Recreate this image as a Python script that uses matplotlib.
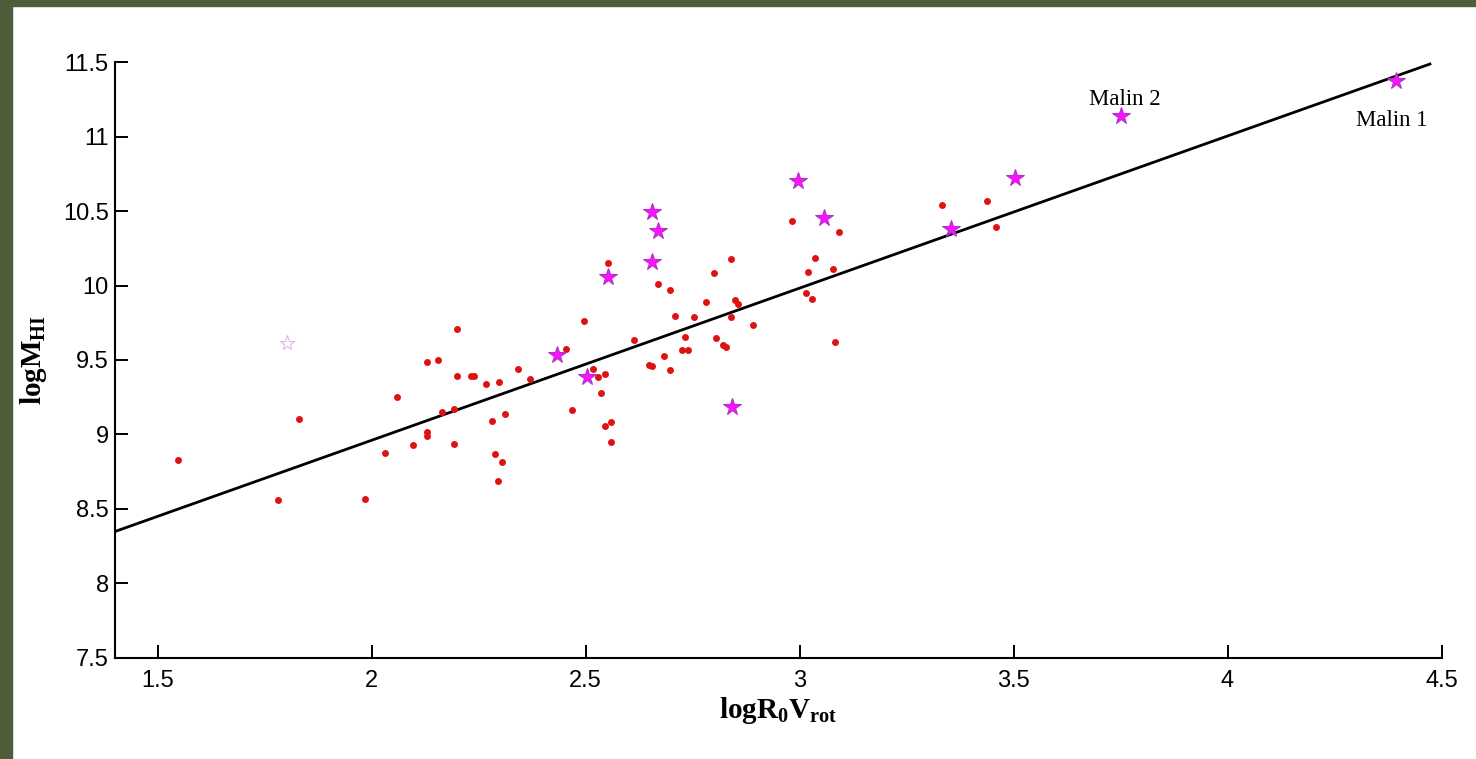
import matplotlib
matplotlib.use("Agg")
import matplotlib.pyplot as plt
from matplotlib.patches import Rectangle
import numpy as np

plt.rcParams['mathtext.fontset'] = 'custom'
plt.rcParams['mathtext.rm'] = 'Liberation Serif'
plt.rcParams['mathtext.bf'] = 'Liberation Serif:bold'
plt.rcParams['mathtext.default'] = 'bf'

# red points (logR0Vrot, logMHI)
dot_x = [1.548, 1.782, 1.829, 1.985, 2.032, 2.060, 2.097, 2.128, 2.128, 2.130,
         2.156, 2.165, 2.193, 2.193, 2.200, 2.200, 2.233, 2.240, 2.268, 2.298,
         2.341, 2.371, 2.280, 2.312, 2.287, 2.305, 2.296, 2.453, 2.469, 2.495,
         2.518, 2.528, 2.546, 2.535, 2.546, 2.558, 2.560, 2.553, 2.614, 2.647,
         2.654, 2.682, 2.698, 2.670, 2.698, 2.708, 2.752, 2.733, 2.724, 2.738,
         2.780, 2.801, 2.839, 2.804, 2.820, 2.827, 2.839, 2.850, 2.857, 2.892,
         2.981, 3.091, 3.035, 3.019, 3.079, 3.016, 3.028, 3.082, 3.332, 3.439,
         3.458]
dot_y = [8.828, 8.559, 9.104, 8.566, 8.875, 9.251, 8.929, 9.016, 8.989, 9.487,
         9.500, 9.151, 9.171, 8.936, 9.708, 9.392, 9.392, 9.392, 9.339, 9.352,
         9.440, 9.372, 9.090, 9.137, 8.868, 8.815, 8.687, 9.574, 9.164, 9.762,
         9.440, 9.386, 9.406, 9.278, 9.057, 9.083, 8.949, 10.152, 9.634, 9.466,
         9.460, 9.527, 9.433, 10.011, 9.970, 9.796, 9.789, 9.655, 9.567, 9.567,
         9.890, 10.084, 10.179, 9.648, 9.601, 9.587, 9.789, 9.903, 9.876, 9.735,
         10.434, 10.360, 10.185, 10.091, 10.111, 9.950, 9.910, 9.621, 10.541, 10.568,
         10.394]

# magenta stars (LSB galaxies)
star_x = [2.434, 2.504, 2.551, 2.654, 2.668, 2.656, 2.841, 2.995, 3.058, 3.353,
          3.503, 3.750, 4.393]
star_y = [9.534, 9.386, 10.058, 10.494, 10.367, 10.158, 9.184, 10.703, 10.454, 10.380,
          10.723, 11.139, 11.374]

# faint marker left of the cloud
faint_x = [1.803]
faint_y = [9.614]

# fitted line
fit_slope = 1.022
fit_icpt = 6.917
fit_range = [1.40, 4.473]

labels = ["Malin 2", "Malin 1"]
label_x = [3.76, 4.384]
label_y = [11.253, 11.112]

fig = plt.figure(figsize=(14.76, 7.59), dpi=100)
fig.patch.set_facecolor('white')
# dark frame strips at left and top
fig.patches.append(Rectangle((0, 0), 12 / 1476, 1, transform=fig.transFigure,
                             color='#4f5d3b', zorder=0))
fig.patches.append(Rectangle((0, 1 - 6 / 759), 1, 6 / 759, transform=fig.transFigure,
                             color='#4f5d3b', zorder=0))

ax = fig.add_axes([115 / 1476, 1 - 657.7 / 759, 1326.5 / 1476, 595.4 / 759])

lx = np.array(fit_range)
ax.plot(lx, fit_slope * lx + fit_icpt, color='black', lw=2.0, zorder=2)
ax.plot(dot_x, dot_y, 'o', color='#dd1212', markersize=5, markeredgewidth=0, zorder=3)
ax.plot(star_x, star_y, '*', markerfacecolor='#ff10ff', markeredgecolor='#b030c8',
        markeredgewidth=0.8, markersize=13, zorder=4)
ax.plot(faint_x, faint_y, '*', markerfacecolor='none', markeredgecolor='#dcb0dc',
        markeredgewidth=0.7, markersize=11, zorder=3)

for t, x, y in zip(labels, label_x, label_y):
    ax.text(x, y, t, ha='center', va='center', fontsize=16.5,
            family='Liberation Serif', color='black')

ax.set_xlim(1.4, 4.5)
ax.set_ylim(7.5, 11.5)
ax.set_xticks([1.5, 2, 2.5, 3, 3.5, 4, 4.5])
ax.set_xticklabels(['1.5', '2', '2.5', '3', '3.5', '4', '4.5'])
ax.set_yticks([7.5, 8, 8.5, 9, 9.5, 10, 10.5, 11, 11.5])
ax.set_yticklabels(['7.5', '8', '8.5', '9', '9.5', '10', '10.5', '11', '11.5'])

ax.spines['top'].set_visible(False)
ax.spines['right'].set_visible(False)
for s in ['left', 'bottom']:
    ax.spines[s].set_linewidth(1.5)
ax.tick_params(direction='in', length=9.5, width=1.4, labelsize=17,
               labelfontfamily='Liberation Sans')
ax.tick_params(axis='x', pad=8.5)
ax.tick_params(axis='y', pad=4.5)

ax.set_xlabel(r'$logR_0V_{rot}$', fontsize=21)
ax.set_ylabel(r'$logM_{HI}$', fontsize=21)
ax.xaxis.set_label_coords(0.5, -0.063)
ax.yaxis.set_label_coords(-0.05, 0.5)

fig.savefig('out.png', dpi=100, facecolor='white')
